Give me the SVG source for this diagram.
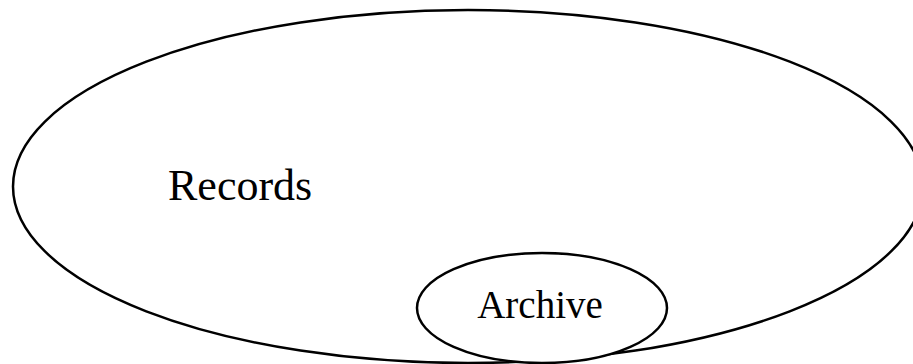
<svg xmlns="http://www.w3.org/2000/svg" width="913" height="364" viewBox="0 0 913 364">
<style>
.shape{fill:#fff;stroke:#000;stroke-width:2.5}
.lbl{font-family:"Liberation Serif","Times New Roman",serif;fill:#000}
</style>
<rect width="913" height="364" fill="#fff"/>
<g id="records">
<ellipse class="shape" cx="468" cy="186.5" rx="455" ry="176.5"/>
<text class="lbl" x="168" y="200" font-size="44">Records</text>
</g>
<g id="archive">
<ellipse class="shape" cx="542" cy="308" rx="125" ry="55"/>
<text class="lbl" x="540" y="318" font-size="39" text-anchor="middle">Archive</text>
</g>
<g id="connectors"></g>
</svg>
